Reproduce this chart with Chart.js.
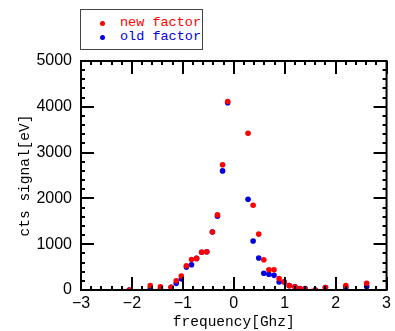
<!DOCTYPE html>
<html>
<head>
<meta charset="utf-8">
<script src="https://cdn.jsdelivr.net/npm/chart.js@4"></script>
<style>
  html, body { margin: 0; padding: 0; background: #fff; }
  #wrap { position: relative; width: 395px; height: 331px; }
  #legend {
    position: absolute; left: 80px; top: 9px; width: 121px; height: 39px;
    border: 1px solid #444; background: #fff;
    font-family: "Liberation Mono", "DejaVu Sans Mono", monospace; font-size: 13.5px;
  }
  #legend div { position: absolute; left: 39px; line-height: 14px; white-space: nowrap; }
  #legend span { position: absolute; left: -20px; top: 5px; width: 5px; height: 5px; border-radius: 50%; }
</style>
</head>
<body>
<div id="wrap">
  <canvas id="chart" width="395" height="331"></canvas>
  <div id="legend">
    <div style="top:6px;color:#ff0000"><span style="background:#ff0000"></span>new factor</div>
    <div style="top:20px;color:#0000e0"><span style="background:#0000e0"></span>old factor</div>
  </div>
</div>
<script>
// ---- data ----
var freqNew = [-2.05, -1.64, -1.44, -1.23, -1.13, -1.03, -0.93, -0.83, -0.73, -0.63, -0.53, -0.42, -0.32, -0.22, -0.12,
               0.28, 0.38, 0.49, 0.59, 0.69, 0.79, 0.89, 0.99, 1.09, 1.20, 1.30, 1.40, 1.60, 1.80, 2.20, 2.61];
var signalNew = [0, 95, 70, 60, 200, 307, 530, 665, 690, 825, 835, 1265, 1640, 2735, 4115,
                 3420, 1850, 1220, 660, 440, 440, 250, 180, 95, 70, 25, 20, 0, 55, 95, 145];
var freqOld = freqNew;
var signalOld = [0, 30, 20, 60, 145, 240, 500, 550, 690, 825, 835, 1265, 1610, 2600, 4090,
                 1980, 1070, 700, 365, 345, 320, 175, 175, 95, 70, 30, 30, 0, 55, 55, 75];

var xTicks = [-3, -2, -1, 0, 1, 2, 3];
var yTicks = [0, 1000, 2000, 3000, 4000, 5000];

function toPoints(xs, ys) {
  return xs.map(function(x, i) { return { x: x, y: ys[i] }; });
}

// frame and inward tick marks on all four sides
var frameTicks = {
  id: 'frameTicks',
  afterDraw: function(chart) {
    var ctx = chart.ctx;
    var xs = chart.scales.x, ys = chart.scales.y;
    var a = chart.chartArea;
    var major = 13, minor = 4;
    ctx.save();
    ctx.strokeStyle = '#000';
    ctx.lineWidth = 2;
    ctx.strokeRect(a.left, a.top, a.right - a.left, a.bottom - a.top);
    ctx.beginPath();
    for (var v = -3; v <= 3.001; v += 0.2) {
      var isMajor = Math.abs(v - Math.round(v)) < 0.01;
      var len = isMajor ? major : minor;
      var px = Math.round(xs.getPixelForValue(v));
      ctx.moveTo(px, a.bottom); ctx.lineTo(px, a.bottom - len);
      ctx.moveTo(px, a.top); ctx.lineTo(px, a.top + len);
    }
    for (var w = 0; w <= 5000; w += 200) {
      var len2 = (w % 1000 === 0) ? major : minor;
      var py = Math.round(ys.getPixelForValue(w));
      ctx.moveTo(a.left, py); ctx.lineTo(a.left + len2, py);
      ctx.moveTo(a.right, py); ctx.lineTo(a.right - len2, py);
    }
    ctx.stroke();
    ctx.restore();
  }
};

var tickFont = { family: "'Liberation Sans Narrow', 'Liberation Sans'", size: 16 };

new Chart(document.getElementById('chart'), {
  type: 'scatter',
  data: {
    datasets: [{
      label: 'new factor',
      data: toPoints(freqNew, signalNew),
      backgroundColor: '#ff0000',
      borderWidth: 0,
      pointRadius: 2.8
    }, {
      label: 'old factor',
      data: toPoints(freqOld, signalOld),
      backgroundColor: '#0000e0',
      borderWidth: 0,
      pointRadius: 2.8
    }]
  },
  options: {
    responsive: false,
    animation: false,
    layout: { padding: { left: 0, right: 7, top: 61, bottom: 0 } },
    plugins: {
      legend: { display: false },
      tooltip: { enabled: false }
    },
    scales: {
      x: {
        type: 'linear',
        min: -3,
        max: 3,
        afterBuildTicks: function(scale) {
          scale.ticks = xTicks.map(function(v) { return { value: v }; });
        },
        afterFit: function(scale) { scale.height = 41; },
        grid: { display: false, drawTicks: false },
        border: { display: false },
        ticks: {
          padding: 4,
          color: '#000',
          font: tickFont,
          callback: function(v) { return String(v).replace('-', '\u2212'); }
        },
        title: {
          display: true,
          text: 'frequency[Ghz]',
          color: '#000',
          padding: { top: 0, bottom: 0 },
          font: { family: 'Liberation Mono', size: 14.5 }
        }
      },
      y: {
        type: 'linear',
        min: 0,
        max: 5000,
        afterBuildTicks: function(scale) {
          scale.ticks = yTicks.map(function(v) { return { value: v }; });
        },
        afterFit: function(scale) { scale.width = 81; },
        grid: { display: false, drawTicks: false },
        border: { display: false },
        ticks: {
          padding: 9,
          color: '#000',
          font: tickFont,
          callback: function(v) { return String(v); }
        },
        title: {
          display: true,
          text: 'cts signal[eV]',
          color: '#000',
          padding: { top: 16, bottom: 0 },
          font: { family: 'Liberation Mono', size: 14.5 }
        }
      }
    }
  },
  plugins: [frameTicks]
});
</script>
</body>
</html>
